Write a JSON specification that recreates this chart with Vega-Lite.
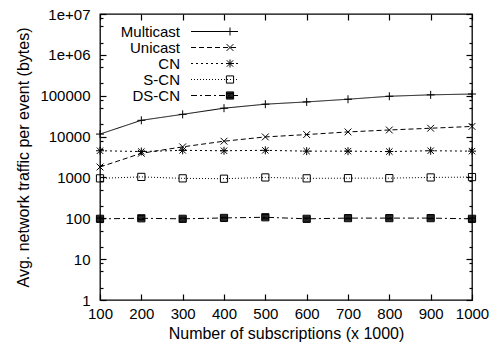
{
  "$schema": "https://vega.github.io/schema/vega-lite/v6.json",
  "width": 372,
  "height": 286,
  "autosize": {"type": "none"},
  "padding": {"left": 100, "top": 14, "right": 21, "bottom": 45},
  "background": "white",
  "config": {
    "view": {"stroke": "black", "strokeWidth": 1.3},
    "font": "Liberation Sans",
    "axis": {
      "labelFont": "Liberation Sans", "labelFontSize": 15, "labelColor": "black",
      "titleFont": "Liberation Sans", "titleFontSize": 16, "titleFontWeight": "normal", "titleColor": "black",
      "domain": false, "ticks": true, "tickColor": "black", "tickOpacity": 1, "tickWidth": 1.2, "grid": false,
      "labelOverlap": false, "labelFlush": false, "zindex": 1
    }
  },
  "data": {
    "values": [
      {"series": "Multicast", "subs": 100, "traffic": 11500},
      {"series": "Multicast", "subs": 200, "traffic": 25000},
      {"series": "Multicast", "subs": 300, "traffic": 35000},
      {"series": "Multicast", "subs": 400, "traffic": 49500},
      {"series": "Multicast", "subs": 500, "traffic": 62000},
      {"series": "Multicast", "subs": 600, "traffic": 70500},
      {"series": "Multicast", "subs": 700, "traffic": 82000},
      {"series": "Multicast", "subs": 800, "traffic": 97000},
      {"series": "Multicast", "subs": 900, "traffic": 105000},
      {"series": "Multicast", "subs": 1000, "traffic": 110000},
      {"series": "Unicast", "subs": 100, "traffic": 1800},
      {"series": "Unicast", "subs": 200, "traffic": 3900},
      {"series": "Unicast", "subs": 300, "traffic": 5600},
      {"series": "Unicast", "subs": 400, "traffic": 7700},
      {"series": "Unicast", "subs": 500, "traffic": 9800},
      {"series": "Unicast", "subs": 600, "traffic": 11200},
      {"series": "Unicast", "subs": 700, "traffic": 13000},
      {"series": "Unicast", "subs": 800, "traffic": 14500},
      {"series": "Unicast", "subs": 900, "traffic": 16000},
      {"series": "Unicast", "subs": 1000, "traffic": 17700},
      {"series": "CN", "subs": 100, "traffic": 4500},
      {"series": "CN", "subs": 200, "traffic": 4300},
      {"series": "CN", "subs": 300, "traffic": 4600},
      {"series": "CN", "subs": 400, "traffic": 4500},
      {"series": "CN", "subs": 500, "traffic": 4600},
      {"series": "CN", "subs": 600, "traffic": 4400},
      {"series": "CN", "subs": 700, "traffic": 4400},
      {"series": "CN", "subs": 800, "traffic": 4300},
      {"series": "CN", "subs": 900, "traffic": 4500},
      {"series": "CN", "subs": 1000, "traffic": 4400},
      {"series": "S-CN", "subs": 100, "traffic": 950},
      {"series": "S-CN", "subs": 200, "traffic": 1030},
      {"series": "S-CN", "subs": 300, "traffic": 950},
      {"series": "S-CN", "subs": 400, "traffic": 930},
      {"series": "S-CN", "subs": 500, "traffic": 1000},
      {"series": "S-CN", "subs": 600, "traffic": 950},
      {"series": "S-CN", "subs": 700, "traffic": 960},
      {"series": "S-CN", "subs": 800, "traffic": 960},
      {"series": "S-CN", "subs": 900, "traffic": 1000},
      {"series": "S-CN", "subs": 1000, "traffic": 1020},
      {"series": "DS-CN", "subs": 100, "traffic": 97},
      {"series": "DS-CN", "subs": 200, "traffic": 100},
      {"series": "DS-CN", "subs": 300, "traffic": 97},
      {"series": "DS-CN", "subs": 400, "traffic": 102},
      {"series": "DS-CN", "subs": 500, "traffic": 106},
      {"series": "DS-CN", "subs": 600, "traffic": 97},
      {"series": "DS-CN", "subs": 700, "traffic": 101},
      {"series": "DS-CN", "subs": 800, "traffic": 101},
      {"series": "DS-CN", "subs": 900, "traffic": 101},
      {"series": "DS-CN", "subs": 1000, "traffic": 97}
    ]
  },
  "layer": [
    {
      "mark": {"type": "line", "color": "black", "strokeWidth": 1},
      "encoding": {
        "x": {
          "field": "subs", "type": "quantitative",
          "scale": {"domain": [100, 1000], "nice": false, "zero": false},
          "axis": {
            "orient": "bottom", "values": [100, 200, 300, 400, 500, 600, 700, 800, 900, 1000],
            "format": "d", "ticks": true, "tickSize": 6, "offset": -6, "labelPadding": 6,
            "title": "Number of subscriptions (x 1000)", "titlePadding": 4
          }
        },
        "y": {
          "field": "traffic", "type": "quantitative",
          "scale": {"type": "log", "domain": [1, 10000000], "nice": false},
          "axis": {
            "orient": "left",
            "values": [1, 10, 100, 1000, 10000, 100000, 1000000, 10000000],
            "labelExpr": "datum.value >= 1000000 ? replace(format(datum.value, '.0e'), 'e+', 'e+0') : format(datum.value, 'd')",
            "ticks": true, "tickSize": 6, "offset": -6, "labelPadding": 10,
            "title": "Avg. network traffic per event (bytes)", "titlePadding": 8
          }
        },
        "strokeDash": {
          "field": "series", "type": "nominal",
          "scale": {"domain": ["Multicast", "Unicast", "CN", "S-CN", "DS-CN"], "range": [[1, 0], [5, 3], [2, 3], [1, 2], [6, 3, 2, 3]]},
          "legend": {
            "orient": "none", "legendX": 107, "legendY": 10, "title": null, "padding": 0,
            "symbolType": "M-5.875,0H5.875", "symbolSize": 64, "symbolStrokeWidth": 1, "symbolStrokeColor": "black",
            "labelAlign": "right", "labelOffset": -42, "labelFont": "Liberation Sans", "labelFontSize": 15,
            "labelColor": "black", "labelBaseline": "middle", "rowPadding": 0
          }
        }
      }
    },
    {
      "mark": {"type": "point", "filled": false, "stroke": "black", "strokeWidth": 1, "opacity": 1},
      "encoding": {
        "x": {
          "field": "subs", "type": "quantitative",
          "axis": {"orient": "top", "values": [100, 200, 300, 400, 500, 600, 700, 800, 900, 1000], "labels": false, "title": null, "ticks": true, "tickSize": 6, "offset": -6}
        },
        "y": {
          "field": "traffic", "type": "quantitative",
          "axis": {
            "orient": "right",
            "values": [1, 10, 100, 1000, 10000, 100000, 1000000, 10000000],
            "labels": false, "title": null, "ticks": true, "tickSize": 6, "offset": -6
          }
        },
        "shape": {
          "field": "series", "type": "nominal",
          "sort": ["Multicast", "Unicast", "CN", "S-CN", "DS-CN"],
          "scale": {"range": [
            "M-1,0H1M0,-1V1",
            "M-0.85,-0.85L0.85,0.85M-0.85,0.85L0.85,-0.85",
            "M-1,0H1M0,-1V1M-0.8,-0.8L0.8,0.8M-0.8,0.8L0.8,-0.8",
            "M-0.9,-0.9H0.9V0.9H-0.9Z",
            "M-0.9,-0.9H0.9V0.9H-0.9ZM-0.9,-0.7H0.9M-0.9,-0.5H0.9M-0.9,-0.3H0.9M-0.9,-0.1H0.9M-0.9,0.1H0.9M-0.9,0.3H0.9M-0.9,0.5H0.9M-0.9,0.7H0.9"
          ]},
          "legend": {
            "orient": "none", "legendX": 122.5, "legendY": 10, "title": null, "padding": 0,
            "symbolSize": 64, "symbolStrokeWidth": 1, "symbolStrokeColor": "black",
            "labelOpacity": 0, "labelFontSize": 15, "labelFont": "Liberation Sans", "labelBaseline": "middle", "rowPadding": 0
          }
        },
        "size": {"value": 64}
      }
    },
    {
      "mark": {"type": "line", "opacity": 0},
      "encoding": {
        "x": {"field": "subs", "type": "quantitative", "axis": null},
        "y": {
          "field": "traffic", "type": "quantitative",
          "axis": {
            "orient": "left",
            "values": [2, 5, 8, 20, 50, 80, 200, 500, 800, 2000, 5000, 8000, 20000, 50000, 80000, 200000, 500000, 800000, 2000000, 5000000, 8000000],
            "labels": false, "title": null, "ticks": true, "tickSize": 3, "offset": -3
          }
        },
        "detail": {"field": "series", "type": "nominal"}
      }
    },
    {
      "mark": {"type": "line", "opacity": 0},
      "encoding": {
        "x": {"field": "subs", "type": "quantitative", "axis": null},
        "y": {
          "field": "traffic", "type": "quantitative",
          "axis": {
            "orient": "right",
            "values": [2, 5, 8, 20, 50, 80, 200, 500, 800, 2000, 5000, 8000, 20000, 50000, 80000, 200000, 500000, 800000, 2000000, 5000000, 8000000],
            "labels": false, "title": null, "ticks": true, "tickSize": 3, "offset": -3
          }
        },
        "detail": {"field": "series", "type": "nominal"}
      }
    }
  ],
  "resolve": {"axis": {"x": "independent", "y": "independent"}}
}
